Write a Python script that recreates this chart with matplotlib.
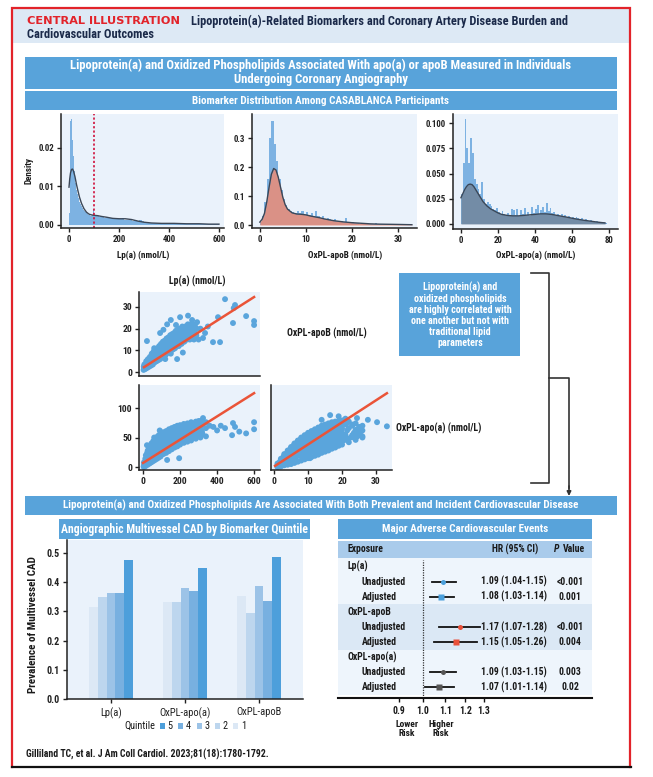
import numpy as np
import matplotlib
matplotlib.use('Agg')
import matplotlib.pyplot as plt
from matplotlib import font_manager as fm
from matplotlib.patches import Rectangle
from matplotlib.ticker import NullLocator

# ---------------- fonts ----------------
avail = {f.name for f in fm.fontManager.ttflist}
FONT = 'DejaVu Sans'
for cand in ['Liberation Sans Narrow', 'Roboto Condensed', 'Open Sans Condensed', 'Roboto', 'Lato']:
    if cand in avail:
        FONT = cand
        break
plt.rcParams['font.family'] = [FONT, 'DejaVu Sans']
plt.rcParams['font.weight'] = 'bold'

# ---------------- data: histograms ----------------
lpa_hist = [0.003, 0.027, 0.0275, 0.022, 0.018, 0.014, 0.011, 0.009, 0.008, 0.007,
            0.006, 0.0055, 0.005, 0.0045, 0.004, 0.0036, 0.0033, 0.003, 0.0028, 0.0027,
            0.0025, 0.0024, 0.0023, 0.0025, 0.0042,
            0.0025, 0.0022, 0.0020, 0.0021, 0.0019, 0.0020, 0.0018, 0.0017, 0.0016, 0.0016,
            0.0015, 0.0017, 0.0013, 0.0012, 0.0014, 0.0011, 0.0012, 0.0010, 0.0012, 0.0009,
            0.0008, 0.0007, 0.0006, 0.0006, 0.0005, 0.0006, 0.0005, 0.0004, 0.0005, 0.0004,
            0.0004, 0.0003, 0.0004, 0.0003, 0.0003, 0.0004, 0.0003, 0.0003, 0.0002, 0.0003,
            0.0003, 0.0002, 0.0002, 0.0003, 0.0002, 0.0002, 0.0002, 0.0003, 0.0002, 0.0003]
lpa_edges = np.concatenate([np.arange(0, 100, 4), np.arange(100, 601, 10)])
lpa_kde_x = [0, 3, 6, 10, 14, 18, 24, 30, 36, 42, 50, 60, 70, 80, 90, 100, 115, 130, 150,
             175, 200, 225, 250, 275, 300, 330, 370, 420, 470, 520, 560, 600]
lpa_kde_y = [0.0098, 0.0120, 0.0135, 0.0144, 0.0145, 0.0140, 0.0125, 0.0105, 0.0088, 0.0072,
             0.0056, 0.0042, 0.0033, 0.0028, 0.0026, 0.0025, 0.0024, 0.0022, 0.0020, 0.0017,
             0.0016, 0.0016, 0.0014, 0.0010, 0.0007, 0.0005, 0.0004, 0.0004, 0.0003, 0.0003,
             0.0002, 0.0002]
lpa_threshold = 100

oxb_hist = [0.01, 0.03, 0.08, 0.16, 0.30, 0.36, 0.28, 0.22, 0.16, 0.12,
            0.09, 0.07, 0.055, 0.05, 0.045, 0.04, 0.05, 0.04, 0.05, 0.035,
            0.045, 0.035, 0.04, 0.03, 0.05, 0.03, 0.025, 0.03, 0.02, 0.025,
            0.02, 0.018, 0.02, 0.015, 0.012, 0.015, 0.01, 0.025, 0.01, 0.008,
            0.01, 0.006, 0.008, 0.005, 0.006, 0.004, 0.005, 0.003, 0.004, 0.003,
            0.006, 0.002, 0.003, 0.002, 0.003, 0.002, 0.002, 0.003, 0.002, 0.002,
            0.003, 0.002, 0.002, 0.001, 0.002, 0.001, 0.001]
oxb_edges = np.arange(0, 33.6, 0.5)
oxb_kde_x = [0, 0.5, 1, 1.5, 2, 2.5, 3, 3.5, 4, 4.5, 5, 5.5, 6, 7, 8, 9, 10, 11, 12, 13,
             14, 15, 16, 18, 20, 22, 24, 26, 28, 30, 33]
oxb_kde_y = [0.010, 0.02, 0.04, 0.08, 0.13, 0.175, 0.195, 0.19, 0.165, 0.13, 0.095, 0.07,
             0.055, 0.042, 0.038, 0.037, 0.035, 0.031, 0.028, 0.025, 0.021, 0.018, 0.015,
             0.011, 0.008, 0.006, 0.004, 0.003, 0.0025, 0.002, 0.001]

oxa_hist = [0.03, 0.06, 0.104, 0.075, 0.06, 0.085, 0.07, 0.045, 0.04, 0.035,
            0.03, 0.042, 0.025, 0.02, 0.022, 0.02, 0.018, 0.015, 0.014, 0.016,
            0.012, 0.01, 0.013, 0.01, 0.009, 0.011, 0.008, 0.015, 0.014, 0.009,
            0.015, 0.008, 0.014, 0.01, 0.016, 0.009, 0.012, 0.008, 0.017, 0.011,
            0.015, 0.019, 0.01, 0.014, 0.017, 0.012, 0.021, 0.013, 0.016, 0.011,
            0.012, 0.009, 0.01, 0.008, 0.01, 0.007, 0.009, 0.007, 0.008, 0.006,
            0.007, 0.006, 0.007, 0.006, 0.005, 0.006, 0.004, 0.005, 0.004, 0.003,
            0.004, 0.003, 0.002, 0.003, 0.002, 0.002, 0.001, 0.002, 0.001]
oxa_edges = np.arange(0, 80, 1)
oxa_kde_x = [0, 1, 2, 3, 4, 5, 6, 7, 8, 10, 12, 14, 16, 18, 20, 22, 25, 28, 31, 34, 37, 40,
             43, 46, 49, 52, 55, 58, 62, 66, 70, 74, 78]
oxa_kde_y = [0.026, 0.030, 0.034, 0.037, 0.039, 0.0395, 0.039, 0.037, 0.034, 0.028, 0.022,
             0.018, 0.015, 0.013, 0.011, 0.0095, 0.0085, 0.008, 0.008, 0.0085, 0.009, 0.0095,
             0.010, 0.010, 0.0095, 0.0085, 0.0075, 0.0065, 0.005, 0.0038, 0.0028, 0.0018, 0.001]

# ---------------- data: scatter (x, y) ----------------
lpa_vs_oxb = [(3, 1), (5, 2), (7, 3.5), (13, 1.5), (15, 3), (17, 5), (23, 2), (25, 4), (27, 6),
              (33, 2.5), (35, 5), (37, 7), (43, 3), (45, 5.5), (47, 8.5), (53, 3.5), (55, 6.5),
              (57, 9.5), (63, 4.5), (65, 7), (67, 10.5), (73, 5), (75, 8), (77, 11), (83, 5.5),
              (85, 8.5), (87, 12), (93, 6), (95, 9.5), (97, 13), (103, 7), (105, 10), (107, 14),
              (113, 7.5), (115, 11), (117, 14.5), (123, 8), (125, 11.5), (127, 15.5), (133, 9),
              (135, 12), (137, 16), (143, 9), (145, 12.5), (147, 17), (153, 10), (155, 13.5),
              (157, 17.5), (163, 10.5), (165, 14), (167, 18), (173, 11), (175, 14.5), (177, 19),
              (183, 12), (185, 15), (187, 19.5), (193, 12), (195, 16), (197, 20), (208, 13),
              (210, 16.5), (212, 21), (223, 14), (225, 17.5), (227, 21), (238, 15), (240, 18),
              (242, 22), (253, 15), (255, 18.5), (257, 22), (268, 16), (270, 19), (272, 22),
              (288, 17), (290, 20), (292, 23),
              (10, 2.5), (20, 3.5), (30, 3), (40, 6), (50, 4), (60, 8), (70, 6), (80, 9.5),
              (90, 7), (100, 11), (110, 8.5), (120, 13), (130, 10), (140, 14.5), (150, 11),
              (160, 16), (170, 12.5), (180, 17), (190, 14), (200, 18.5),
              (10, 1.5), (20, 4.5), (30, 5), (40, 4), (50, 7), (60, 5), (70, 9), (80, 7),
              (90, 10.5), (100, 8), (110, 12.5), (120, 9.5), (130, 14), (140, 11), (150, 15.5),
              (160, 12), (170, 16.5), (180, 13.5), (190, 17.5), (200, 15),
              (8, 1.5), (18, 2.5), (28, 3), (38, 4), (48, 4.5), (58, 5), (68, 6), (78, 6.5),
              (88, 7), (100, 8.5), (112, 9), (122, 10), (132, 10.5), (142, 11), (152, 12),
              (162, 12.5), (172, 13), (182, 13.5), (195, 14), (215, 15), (235, 16.5), (260, 17),
              (280, 18),
              (8, 3), (18, 4), (28, 5), (38, 6.5), (48, 7), (58, 8), (68, 9), (78, 10), (88, 11),
              (100, 12), (112, 13), (122, 14), (132, 14), (142, 15), (152, 15.5), (162, 16),
              (172, 16.5), (182, 17.5), (195, 18), (215, 19), (235, 20), (260, 20.5), (280, 21.5),
              (4, 2.5), (11, 3.5), (19, 2), (24, 5.5), (31, 4), (36, 6), (41, 5), (46, 7.5),
              (51, 5.5), (56, 8.5), (61, 6.5), (66, 9), (71, 7.5), (76, 10), (81, 8), (86, 10.5),
              (91, 9), (96, 11.5), (101, 9.5), (106, 12), (111, 10.5), (116, 13), (121, 11),
              (126, 13.5), (131, 12), (136, 14.5), (141, 13), (146, 15.5), (151, 14), (156, 16.5),
              (161, 15), (166, 17), (171, 15.5), (176, 18), (181, 16), (186, 17), (196, 17.5),
              (205, 19), (218, 18), (232, 19.5), (246, 19), (262, 20.5), (278, 19),
              (21, 14.3), (60, 11), (92, 18), (110, 19.5), (130, 22), (150, 24), (178, 21.7),
              (200, 25.3), (243, 26), (184, 6), (120, 6), (150, 8.5), (215, 9), (275, 15),
              (300, 15), (324, 15.7), (335, 18), (378, 13.8), (416, 13.8), (405, 25.3),
              (443, 33.6), (497, 30.9), (490, 29.5), (486, 22.6), (557, 25.8), (600, 23.5),
              (600, 21.7), (310, 20), (350, 21), (265, 24)]
lpa_vs_oxa = [(5, 0), (5, 3), (5, 8), (15, 2), (15, 10), (15, 20), (25, 4), (25, 16), (25, 28),
              (35, 6), (35, 21), (35, 35), (45, 8), (45, 26), (45, 40), (55, 10), (55, 30),
              (55, 44), (65, 12), (65, 33), (65, 48), (75, 14), (75, 36), (75, 51), (85, 16),
              (85, 38), (85, 54), (95, 18), (95, 40), (95, 56), (110, 22), (110, 44), (110, 59),
              (125, 24), (125, 46), (125, 61), (140, 27), (140, 48), (140, 64), (155, 30),
              (155, 50), (155, 66), (170, 33), (170, 52), (170, 68), (185, 35), (185, 54),
              (185, 70), (200, 38), (200, 55), (200, 71), (220, 41), (220, 57), (220, 73),
              (240, 43), (240, 58), (240, 74), (260, 45), (260, 60), (260, 76), (285, 48),
              (285, 62), (285, 77), (310, 50), (310, 64), (310, 78), (340, 52), (340, 66),
              (340, 76),
              (10, 6), (20, 13), (30, 22), (40, 18), (50, 33), (60, 24), (70, 41), (80, 30),
              (90, 46), (100, 34), (115, 51), (130, 40), (145, 56), (160, 44), (175, 60),
              (190, 48), (205, 62), (230, 50), (250, 66), (275, 55),
              (10, 2), (20, 8), (30, 12), (40, 28), (50, 16), (60, 38), (70, 22), (80, 44),
              (90, 28), (100, 49), (115, 33), (130, 55), (145, 38), (160, 58), (175, 42),
              (190, 63), (205, 46), (230, 68), (250, 52), (275, 70),
              (8, 1.5), (18, 6), (28, 10), (38, 14), (48, 17), (58, 20), (68, 23), (78, 25),
              (88, 27), (100, 29), (118, 33), (135, 35), (150, 38), (165, 40), (180, 43),
              (195, 45), (215, 47), (235, 49), (255, 51), (280, 54), (300, 56), (320, 57),
              (8, 5), (18, 15), (28, 22), (38, 28), (48, 33), (58, 37), (68, 40), (78, 43),
              (88, 46), (100, 48), (118, 52), (135, 54), (150, 57), (165, 58), (180, 61),
              (195, 62), (215, 64), (235, 65), (255, 67), (280, 69), (300, 70), (320, 71),
              (3, 1), (12, 4), (12, 14), (22, 9), (22, 24), (32, 14), (32, 30), (42, 20),
              (42, 36), (52, 22), (52, 40), (62, 27), (62, 44), (72, 30), (72, 47), (82, 32),
              (82, 50), (92, 35), (92, 52), (105, 38), (105, 55), (120, 40), (120, 57), (138, 43),
              (138, 60), (152, 45), (152, 62), (168, 47), (168, 64), (182, 49), (182, 66),
              (198, 50), (198, 67), (212, 53), (212, 69), (228, 54), (228, 70), (248, 56),
              (248, 72), (268, 57), (268, 73), (292, 59), (292, 74), (318, 61), (318, 75),
              (205, 42), (190, 40), (175, 38), (160, 35), (145, 32), (130, 30), (115, 27),
              (100, 24), (225, 45), (245, 47), (265, 49), (290, 52), (315, 54), (85, 21),
              (70, 18), (55, 15),
              (21, 37), (195, 15), (324, 83), (300, 78), (360, 70), (380, 68), (400, 62),
              (420, 70), (443, 66), (481, 54), (486, 74.5), (497, 68), (557, 57), (600, 76),
              (600, 64), (520, 60), (130, 12), (90, 62), (60, 50)]
oxb_vs_oxa = [(1, 0), (1, 3), (1, 6), (2, 1), (2, 7), (2, 14), (3, 3), (3, 12), (3, 22),
              (4, 4), (4, 17), (4, 28), (5, 5), (5, 21), (5, 34), (6, 7), (6, 25), (6, 40),
              (7, 9), (7, 29), (7, 45), (8, 11), (8, 33), (8, 50), (9, 13), (9, 36), (9, 54),
              (10, 15), (10, 40), (10, 58), (11, 17), (11, 43), (11, 61), (12, 19), (12, 46),
              (12, 64), (13, 21), (13, 49), (13, 67), (14, 24), (14, 52), (14, 70), (15, 26),
              (15, 54), (15, 72), (16, 28), (16, 57), (16, 74), (17, 31), (17, 59), (17, 76),
              (18, 33), (18, 61), (18, 77), (19, 36), (19, 63), (19, 78), (20, 38), (20, 65),
              (20, 79), (22, 42), (22, 66), (22, 77), (24, 46), (24, 63), (24, 74), (26, 50),
              (26, 62), (26, 70),
              (1.5, 5), (2.5, 11), (3.5, 16), (4.5, 25), (5.5, 30), (6.5, 34), (7.5, 40),
              (8.5, 42), (9.5, 47), (10.5, 50), (11.5, 52), (12.5, 55), (13.5, 58), (14.5, 60),
              (15.5, 64), (16.5, 66), (17.5, 68), (18.5, 70), (19.5, 72), (21, 72),
              (1.5, 1), (2.5, 3), (3.5, 8), (4.5, 10), (5.5, 14), (6.5, 18), (7.5, 20),
              (8.5, 24), (9.5, 28), (10.5, 30), (11.5, 34), (12.5, 38), (13.5, 40), (14.5, 44),
              (15.5, 46), (16.5, 48), (17.5, 52), (18.5, 55), (19.5, 58), (21, 55),
              (1.3, 2), (2.3, 4), (3.3, 7), (4.3, 10), (5.3, 13), (6.3, 16), (7.3, 19), (8.3, 22),
              (9.3, 25), (10.3, 28), (11.3, 30), (12.3, 33), (13.3, 35), (14.3, 38), (15.3, 40),
              (16.3, 42), (17.3, 45), (18.3, 47), (19.3, 50), (20.5, 52), (23, 54), (25, 55),
              (1.3, 5), (2.3, 10), (3.3, 17), (4.3, 23), (5.3, 28), (6.3, 33), (7.3, 37),
              (8.3, 42), (9.3, 45), (10.3, 49), (11.3, 52), (12.3, 55), (13.3, 58), (14.3, 61),
              (15.3, 63), (16.3, 65), (17.3, 67), (18.3, 69), (19.3, 71), (20.5, 72), (23, 70),
              (25, 68),
              (1.7, 2), (1.7, 9), (2.8, 6), (2.8, 18), (3.8, 11), (3.8, 24), (4.8, 14), (4.8, 31),
              (5.8, 18), (5.8, 37), (6.8, 21), (6.8, 42), (7.8, 25), (7.8, 47), (8.8, 28),
              (8.8, 51), (9.8, 31), (9.8, 55), (10.8, 34), (10.8, 58), (11.8, 37), (11.8, 61),
              (12.8, 40), (12.8, 63), (13.8, 43), (13.8, 66), (14.8, 46), (14.8, 68), (15.8, 49),
              (15.8, 70), (16.8, 51), (16.8, 72), (17.8, 54), (17.8, 74), (18.8, 57), (18.8, 75),
              (19.8, 60), (19.8, 76), (21.5, 62), (21.5, 75), (23.5, 58), (25.5, 60),
              (14.5, 32), (15.5, 34), (16.5, 37), (17.5, 40), (18.5, 42), (19.5, 45), (12.5, 28),
              (13.5, 30), (11.5, 26), (10.5, 23), (9.5, 21), (8.5, 18), (20.5, 45), (21.5, 48),
              (22.5, 50), (23.5, 50), (24.5, 52),
              (10.6, 15), (16.5, 88), (24.4, 83), (27.6, 80), (30.3, 76), (33.2, 69), (25.3, 63),
              (25, 58), (23, 72), (21, 82), (14, 80), (19, 86), (24, 50), (26, 52)]
# regression fits (slope, intercept, x-from, x-to)
fit_lpa_oxb = (0.0543, 2.0, 5, 600)
fit_lpa_oxa = (0.197, 7.0, 0, 600)
fit_oxb_oxa = (3.74, 0.9, 0.3, 33.2)

# ---------------- data: bar chart ----------------
biomarkers = ['Lp(a)', 'OxPL-apo(a)', 'OxPL-apoB']
quintile_names = ['1', '2', '3', '4', '5']
prev_q1 = [0.317, 0.331, 0.354]
prev_q2 = [0.348, 0.331, 0.295]
prev_q3 = [0.363, 0.379, 0.388]
prev_q4 = [0.365, 0.371, 0.337]
prev_q5 = [0.475, 0.449, 0.486]

# ---------------- data: forest plot ----------------
exposures = ['Lp(a)', 'OxPL-apoB', 'OxPL-apo(a)']
models = ['Unadjusted', 'Adjusted']
hr = [1.09, 1.08, 1.17, 1.15, 1.09, 1.07]
hr_lo = [1.04, 1.03, 1.07, 1.05, 1.03, 1.01]
hr_hi = [1.15, 1.14, 1.28, 1.26, 1.15, 1.14]
pvals = ['<0.001', '0.001', '<0.001', '0.004', '0.003', '0.02']

# ---------------- style ----------------
W, H = 653, 777
BAND = '#58a3da'
BG = '#eaf2fb'
DK = '#222222'
TXT = '#1a1a1a'
HISTBLUE = '#7db2e2'
KDEC = '#3b4757'
PTC = '#5aa5dc'
REDL = '#ea5438'
QCOL = ['#dce8f5', '#bdd6ee', '#9cc3e7', '#78b0e0', '#4d9fdb']
EXPCOL = ['#4a9fdb', '#e8503a', '#555555']

fig = plt.figure(figsize=(W / 100, H / 100), dpi=100)
fig.patch.set_facecolor('white')
ov = fig.add_axes([0, 0, 1, 1])
ov.set_xlim(0, W)
ov.set_ylim(H, 0)
ov.axis('off')


def pax(x0, y0, x1, y1, z=2):
    a = fig.add_axes([x0 / W, 1 - y1 / H, (x1 - x0) / W, (y1 - y0) / H])
    a.set_zorder(z)
    return a


def style(a, bg=BG, fs=6.4):
    a.set_facecolor(bg)
    for s in ['top', 'right']:
        a.spines[s].set_visible(False)
    for s in ['left', 'bottom']:
        a.spines[s].set_color(DK)
        a.spines[s].set_linewidth(1.1)
    a.tick_params(length=3, width=1, color=DK, labelsize=fs, labelcolor=DK, pad=2)


def rect(x0, y0, x1, y1, color, **kw):
    ov.add_patch(Rectangle((x0, y0), x1 - x0, y1 - y0, facecolor=color, edgecolor='none', **kw))


def txt(x, y, s, size=6, color=TXT, ha='left', va='center', **kw):
    ov.text(x, y, s, fontsize=size, color=color, ha=ha, va=va, **kw)


# ---------------- frame & header ----------------
rect(13, 9, 629, 43, '#dde9f5')
ov.plot([12, 12, 630, 630], [767, 8, 8, 767], color='#e2232a', lw=1.6, solid_joinstyle='miter')
ov.plot([12, 631], [767, 767], color='#111111', lw=1.6)
txt(27, 21, 'CENTRAL ILLUSTRATION', size=8.2, color='#e2232a', family='DejaVu Sans')
txt(191, 21, 'Lipoprotein(a)-Related Biomarkers and Coronary Artery Disease Burden and',
    size=8.9, color='#1b2a4a')
txt(27, 34, 'Cardiovascular Outcomes', size=8.9, color='#1b2a4a')

rect(25, 57, 617, 89, BAND)
txt(321, 65.5, 'Lipoprotein(a) and Oxidized Phospholipids Associated With apo(a) or apoB Measured in Individuals',
    size=9.1, color='white', ha='center')
txt(321, 80, 'Undergoing Coronary Angiography', size=9.1, color='white', ha='center')
rect(25, 91, 617, 110, BAND)
txt(321, 100.5, 'Biomarker Distribution Among CASABLANCA Participants', size=8, color='white', ha='center')

# ---------------- histograms ----------------
a1 = pax(61, 114, 224, 228)
style(a1)
a1.bar(lpa_edges[:-1], lpa_hist, width=np.diff(lpa_edges), align='edge', color=HISTBLUE, lw=0)
a1.plot(lpa_kde_x, lpa_kde_y, color=KDEC, lw=1.0)
a1.axvline(lpa_threshold, color='#d0103a', ls=(0, (1.3, 1.3)), lw=1.2)
a1.set_xlim(-32, 620)
a1.set_ylim(-0.0008, 0.0288)
a1.set_xticks([0, 200, 400, 600])
a1.set_yticks([0, 0.01, 0.02])
a1.set_yticklabels(['0.00', '0.01', '0.02'])
txt(29, 171, 'Density', size=6.5, ha='center', rotation=90)
txt(143, 255, 'Lp(a) (nmol/L)', size=6.6, ha='center')
txt(143, 138, 'CAD risk threshold', size=6, ha='center', weight='normal')
txt(143, 152, '(~100 nmol/L)', size=6, ha='center', weight='normal')
ov.annotate('', xy=(98, 144), xytext=(111, 144),
            arrowprops=dict(arrowstyle='-|>', color='#111', lw=0.9, mutation_scale=4,
                            shrinkA=0, shrinkB=0), zorder=5)

a2 = pax(252, 114, 417, 228)
style(a2)
a2.bar(oxb_edges[:-1], oxb_hist, width=np.diff(oxb_edges), align='edge', color=HISTBLUE, lw=0)
a2.fill_between(oxb_kde_x, oxb_kde_y, color='#ef8a72', alpha=0.82, lw=0)
a2.plot(oxb_kde_x, oxb_kde_y, color=KDEC, lw=1.0)
a2.set_xlim(-1.7, 34.1)
a2.set_ylim(-0.0103, 0.383)
a2.set_xticks([0, 10, 20, 30])
a2.set_yticks([0, 0.1, 0.2, 0.3])
a2.set_yticklabels(['0.0', '0.1', '0.2', '0.3'])
txt(345, 255, 'OxPL-apoB (nmol/L)', size=6.6, ha='center')

a3 = pax(453, 114, 618, 229)
style(a3)
a3.bar(oxa_edges[:-1], oxa_hist, width=np.diff(oxa_edges), align='edge', color=HISTBLUE, lw=0)
a3.fill_between(oxa_kde_x, oxa_kde_y, color='#72869c', alpha=0.85, lw=0)
a3.plot(oxa_kde_x, oxa_kde_y, color=KDEC, lw=1.0)
a3.set_xlim(-4.3, 85)
a3.set_ylim(-0.005, 0.109)
a3.set_xticks([0, 20, 40, 60, 80])
a3.set_yticks([0, 0.025, 0.05, 0.075, 0.1])
a3.set_yticklabels(['0.000', '0.025', '0.050', '0.075', '0.100'])
txt(536, 255, 'OxPL-apo(a) (nmol/L)', size=6.6, ha='center')

# ---------------- scatter matrix ----------------
def scat(a, pts, fit):
    p = np.array(pts, dtype=float)
    a.scatter(p[:, 0], p[:, 1], s=18, color=PTC, edgecolors='none', zorder=2)
    xs = np.array([fit[2], fit[3]])
    a.plot(xs, fit[0] * xs + fit[1], color=REDL, lw=1.8, zorder=3)


sA = pax(139, 292, 260, 376)
style(sA, fs=6.8)
scat(sA, lpa_vs_oxb, fit_lpa_oxb)
sA.set_xlim(-22, 632)
sA.set_ylim(-1.8, 36.9)
sA.set_xticks([])
sA.set_yticks([0, 10, 20, 30])

sL = pax(139, 385, 260, 470)
style(sL, fs=6.8)
scat(sL, lpa_vs_oxa, fit_lpa_oxa)
sL.set_xlim(-22, 632)
sL.set_ylim(-5, 139)
sL.set_xticks([0, 200, 400, 600])
sL.set_yticks([0, 50, 100])

sR = pax(271, 385, 392, 470)
style(sR, fs=6.8)
scat(sR, oxb_vs_oxa, fit_oxb_oxa)
sR.set_xlim(-0.9, 34.7)
sR.set_ylim(-5, 139)
sR.set_xticks([0, 10, 20, 30])
sR.set_yticks([])

txt(197, 281, 'Lp(a) (nmol/L)', size=7, ha='center')
txt(327, 333, 'OxPL-apoB (nmol/L)', size=7, ha='center')
txt(396, 428, 'OxPL-apo(a) (nmol/L)', size=7, ha='left')

# callout box and bracket
rect(399, 273, 520, 356, BAND)
ov.text(460, 314.5, 'Lipoprotein(a) and\noxidized phospholipids\nare highly correlated with\n'
        'one another but not with\ntraditional lipid\nparameters',
        fontsize=7.2, color='white', ha='center', va='center', linespacing=1.12)
ov.plot([531, 549, 549, 531], [273, 273, 483, 483], color='#333', lw=1.2)
ov.plot([549, 569, 569], [378, 378, 488], color='#333', lw=1.2)
ov.annotate('', xy=(569, 496), xytext=(569, 486),
            arrowprops=dict(arrowstyle='-|>', color='#333', lw=1.2, mutation_scale=6,
                            shrinkA=0, shrinkB=0))

# ---------------- lower section ----------------
rect(25, 496, 617, 515, BAND)
txt(321, 505.5, 'Lipoprotein(a) and Oxidized Phospholipids Are Associated With Both Prevalent and Incident Cardiovascular Disease',
    size=8, color='white', ha='center')

rect(59, 519, 310, 539, BAND)
txt(184.5, 529, 'Angiographic Multivessel CAD by Biomarker Quintile', size=8.5, color='white', ha='center')

ab = pax(67, 540, 303, 699)
style(ab, fs=7.2)
xg = np.arange(len(biomarkers))
bw = 0.119
prev = [prev_q1, prev_q2, prev_q3, prev_q4, prev_q5]
for i, vals in enumerate(prev):
    ab.bar(xg + (i - 2) * bw, vals, width=bw, color=QCOL[i], lw=0)
ab.set_xlim(-0.595, 2.595)
ab.set_ylim(0, 0.545)
ab.set_xticks(xg)
ab.set_xticklabels(biomarkers, fontsize=7.6, weight='normal')
ab.set_yticks([0, 0.1, 0.2, 0.3, 0.4, 0.5])
ab.set_yticklabels(['0.0', '0.1', '0.2', '0.3', '0.4', '0.5'])
ab.tick_params(axis='x', pad=3)
txt(33, 625, 'Prevalence of Multivessel CAD', size=8, ha='center', rotation=90)

# legend
txt(155, 726, 'Quintile', size=7.4, ha='right', weight='normal')
for k, qi in enumerate([4, 3, 2, 1, 0]):
    x0 = 160 + 18.3 * k
    rect(x0, 723, x0 + 5, 728.5, QCOL[qi])
    txt(x0 + 7.5, 726, quintile_names[qi], size=7.4, ha='left', weight='normal')

txt(26, 754, 'Gilliland TC, et al. J Am Coll Cardiol. 2023;81(18):1780-1792.', size=7)

# ---------------- forest plot ----------------
rect(338, 519, 592, 539, BAND)
txt(465, 529, 'Major Adverse Cardiovascular Events', size=8, color='white', ha='center')
rect(338, 541, 592, 558, '#a9cbeb')
txt(347, 549.5, 'Exposure', size=7)
txt(515, 549.5, 'HR (95% CI)', size=7, ha='center')
txt(554, 549.5, 'P', size=7, style='italic')
txt(562.5, 549.5, 'Value', size=7)
group_bg = ['#eef5fc', '#dbe8f5', '#eef5fc']
row0, drow = 566.5, 15.1
for g in range(3):
    ytop = 558 if g == 0 else row0 + drow * (3 * g - 0.5)
    ybot = row0 + drow * (3 * g + 2.5)
    rect(338, ytop, 592, min(ybot, 697), group_bg[g])
    txt(347, row0 + drow * 3 * g, exposures[g], size=7)
    for m in range(2):
        idx = 2 * g + m
        yy = row0 + drow * (3 * g + 1 + m)
        txt(362, yy, models[m], size=7)
        txt(514, yy, f'{hr[idx]:.2f} ({hr_lo[idx]:.2f}-{hr_hi[idx]:.2f})', size=7, ha='center')
        txt(570, yy, pvals[idx], size=7, ha='center')

fa = pax(338, 558, 592, 698, z=3)
fa.patch.set_visible(False)
fa.set_xscale('log')
for s in ['top', 'right', 'left']:
    fa.spines[s].set_visible(False)
fa.spines['bottom'].set_color('#111')
fa.spines['bottom'].set_linewidth(1.5)
fa.set_xlim(0.693, 2.07)
ybot_idx = (698 - row0) / drow
ytop_idx = (558 - row0) / drow
fa.set_ylim(ybot_idx, ytop_idx)
fa.axvline(1.0, ymin=0, ymax=0.985, color='#333', ls=(0, (1, 1)), lw=0.9)
for g in range(3):
    for m in range(2):
        idx = 2 * g + m
        yy = 3 * g + 1 + m
        fa.plot([hr_lo[idx], hr_hi[idx]], [yy, yy], color='#111', lw=1.3, zorder=3)
        fa.plot([hr[idx]], [yy], marker='o' if m == 0 else 's', ms=3.6 if m == 0 else 4.6,
                color=EXPCOL[g], mec='none', zorder=4)
fa.xaxis.set_minor_locator(NullLocator())
fa.set_xticks([0.9, 1.0, 1.1, 1.2, 1.3])
fa.set_xticklabels(['0.9', '1.0', '1.1', '1.2', '1.3'])
fa.set_yticks([])
fa.tick_params(axis='x', length=3, width=1, color='#111', labelsize=7, labelcolor=TXT, pad=3)
ov.text(407, 729, 'Lower\nRisk', fontsize=6.8, ha='center', va='center', color=TXT, linespacing=1.0)
ov.text(441, 729, 'Higher\nRisk', fontsize=6.8, ha='center', va='center', color=TXT, linespacing=1.0)

fig.savefig('out.png', dpi=100, facecolor='white')
